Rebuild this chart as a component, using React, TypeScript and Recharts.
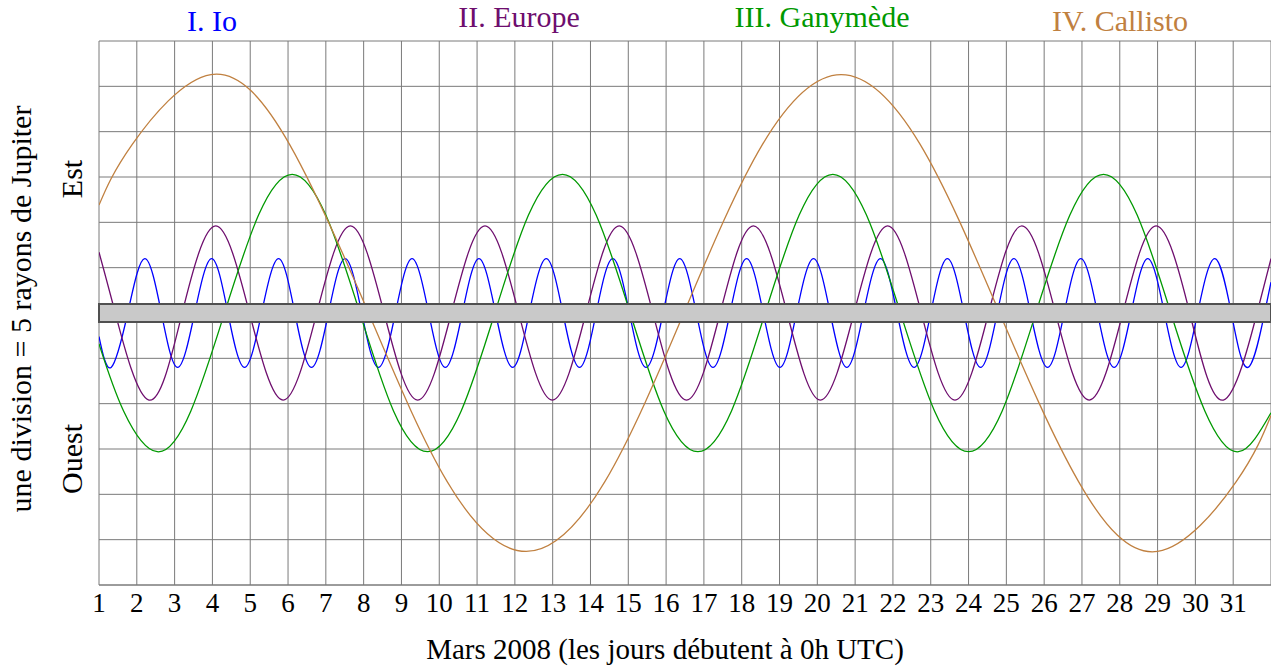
import { CartesianGrid, Line, LineChart, ReferenceArea, XAxis, YAxis } from "recharts"

const FONT = "'Liberation Serif', 'DejaVu Serif', serif"

// x = day of March 2008, y = offset from Jupiter in Jupiter radii (+ = Est)
// points at maxima, minima and crossings of the disc
const ioPos: [number, number][] = [
  [1, -2.6], [1.32, -6], [1.76, 0], [2.21, 6], [2.65, 0], [3.08, -6], [3.53, 0], [3.98, 6],
  [4.41, 0], [4.85, -6], [5.3, 0], [5.75, 6], [6.18, 0], [6.62, -6], [7.07, 0], [7.51, 6],
  [7.95, 0], [8.39, -6], [8.84, 0], [9.28, 6], [9.72, 0], [10.16, -6], [10.61, 0], [11.05, 6],
  [11.49, 0], [11.94, -6], [12.38, 0], [12.83, 6], [13.27, 0], [13.71, -6], [14.15, 0], [14.59, 6],
  [15.03, 0], [15.47, -6], [15.92, 0], [16.36, 6], [16.8, 0], [17.24, -6], [17.69, 0], [18.13, 6],
  [18.57, 0], [19.01, -6], [19.45, 0], [19.9, 6], [20.34, 0], [20.78, -6], [21.22, 0], [21.67, 6],
  [22.11, 0], [22.56, -6], [23.0, 0], [23.44, 6], [23.88, 0], [24.32, -6], [24.76, 0], [25.2, 6],
  [25.64, 0], [26.09, -6], [26.53, 0], [26.97, 6], [27.41, 0], [27.85, -6], [28.3, 0], [28.74, 6],
  [29.18, 0], [29.62, -6], [30.06, 0], [30.51, 6], [30.95, 0], [31.39, -6], [31.83, 0], [32, 3.4],
]

const europaPos: [number, number][] = [
  [1, 6.7], [1.43, 0], [2.32, -9.6], [3.2, 0], [4.09, 9.6], [4.98, 0], [5.87, -9.6], [6.76, 0],
  [7.65, 9.6], [8.54, 0], [9.43, -9.6], [10.32, 0], [11.21, 9.6], [12.1, 0], [12.99, -9.6],
  [13.88, 0], [14.76, 9.6], [15.65, 0], [16.54, -9.6], [17.43, 0], [18.31, 9.6], [19.2, 0],
  [20.08, -9.6], [20.97, 0], [21.86, 9.6], [22.75, 0], [23.64, -9.6], [24.53, 0], [25.41, 9.6],
  [26.3, 0], [27.19, -9.6], [28.08, 0], [28.96, 9.6], [29.85, 0], [30.74, -9.6], [31.63, 0], [32, 6.0],
]

const ganymedePos: [number, number][] = [
  [1, -3.4], [1.65, -10.8], [2.54, -15.3], [3.43, -10.8], [4.32, 0], [5.22, 10.8], [6.11, 15.3],
  [7.0, 10.8], [7.9, 0], [8.79, -10.8], [9.69, -15.3], [10.58, -10.8], [11.47, 0], [12.36, 10.8],
  [13.26, 15.3], [14.15, 10.8], [15.05, 0], [15.94, -10.8], [16.84, -15.3], [17.73, -10.8],
  [18.62, 0], [19.52, 10.8], [20.41, 15.3], [21.3, 10.8], [22.2, 0], [23.1, -10.8], [24.0, -15.3],
  [24.89, -10.8], [25.78, 0], [26.68, 10.8], [27.57, 15.3], [28.46, 10.8], [29.35, 0],
  [30.25, -10.8], [31.14, -15.3], [32, -11.0],
]

const callistoPos: [number, number][] = [
  [1, 11.9], [1.88, 18.6], [3.96, 26.3], [6.04, 18.6], [8.13, 0], [10.21, -18.6], [12.3, -26.3],
  [14.38, -18.6], [16.47, 0], [18.55, 18.6], [20.63, 26.3], [22.72, 18.6], [24.82, 0],
  [26.91, -18.6], [29.0, -26.3], [31.08, -18.6], [32, -11.3],
]

const dayTicks = [1, 2, 3, 4, 5, 6, 7, 8, 9, 10, 11, 12, 13, 14, 15, 16, 17, 18, 19, 20, 21, 22, 23, 24, 25, 26, 27, 28, 29, 30, 31, 32]
const radiusTicks = [-30, -25, -20, -15, -10, -5, 0, 5, 10, 15, 20, 25, 30]

const moons = [
  { name: "I. Io", color: "#0000ff", pos: ioPos },
  { name: "II. Europe", color: "#6e0e6e", pos: europaPos },
  { name: "III. Ganymède", color: "#009900", pos: ganymedePos },
  { name: "IV. Callisto", color: "#c08040", pos: callistoPos },
]

const toRows = (pos: [number, number][]) => pos.map(([d, r]) => ({ d, r }))

function DayTick(props: any) {
  const { x, payload } = props
  if (payload.value > 31) return null
  return (
    <text x={x} y={612} textAnchor="middle" fontFamily={FONT} fontSize={27} fill="#000">
      {payload.value}
    </text>
  )
}

export default function App() {
  return (
    <div style={{ position: "absolute", left: 0, top: 0, width: 1271, height: 666, background: "#fff" }}>
      <LineChart width={1271} height={666} margin={{ top: 41, right: 0, bottom: 40, left: 99 }}>
        <CartesianGrid stroke="#7a7a7a" strokeWidth={1} />
        <XAxis
          type="number"
          dataKey="d"
          domain={[1, 32]}
          ticks={dayTicks}
          allowDataOverflow
          height={41}
          tickLine={false}
          axisLine={{ stroke: "#7a7a7a" }}
          tick={<DayTick />}
          interval={0}
        />
        <YAxis type="number" domain={[-30, 30]} ticks={radiusTicks} allowDataOverflow hide width={0} />
        {moons.map((m) => (
          <Line
            key={m.name}
            data={toRows(m.pos)}
            dataKey="r"
            type="natural"
            stroke={m.color}
            strokeWidth={1.3}
            dot={false}
            activeDot={false}
            isAnimationActive={false}
          />
        ))}
        {/* Jupiter's disc */}
        <ReferenceArea
          x1={1}
          x2={32}
          y1={-1}
          y2={1}
          fill="#c9c9c9"
          fillOpacity={1}
          stroke="#505050"
          strokeWidth={2}
          zIndex={450}
        />
      </LineChart>
      <svg
        width={1271}
        height={666}
        style={{ position: "absolute", left: 0, top: 0, pointerEvents: "none" }}
        fontFamily={FONT}
        fontSize={30}
      >
        <text x={212} y={31} textAnchor="middle" fill={moons[0].color}>{moons[0].name}</text>
        <text x={519} y={27} textAnchor="middle" fill={moons[1].color}>{moons[1].name}</text>
        <text x={822} y={27} textAnchor="middle" fill={moons[2].color}>{moons[2].name}</text>
        <text x={1120} y={31} textAnchor="middle" fill={moons[3].color}>{moons[3].name}</text>
        <text x={665} y={659} textAnchor="middle" fontSize={29} fill="#000">
          Mars 2008 (les jours débutent à 0h UTC)
        </text>
        <text transform="translate(31,309) rotate(-90)" textAnchor="middle" fill="#000">
          une division = 5 rayons de Jupiter
        </text>
        <text transform="translate(82,179) rotate(-90)" textAnchor="middle" fill="#000">Est</text>
        <text transform="translate(82,459) rotate(-90)" textAnchor="middle" fill="#000">Ouest</text>
      </svg>
    </div>
  )
}
